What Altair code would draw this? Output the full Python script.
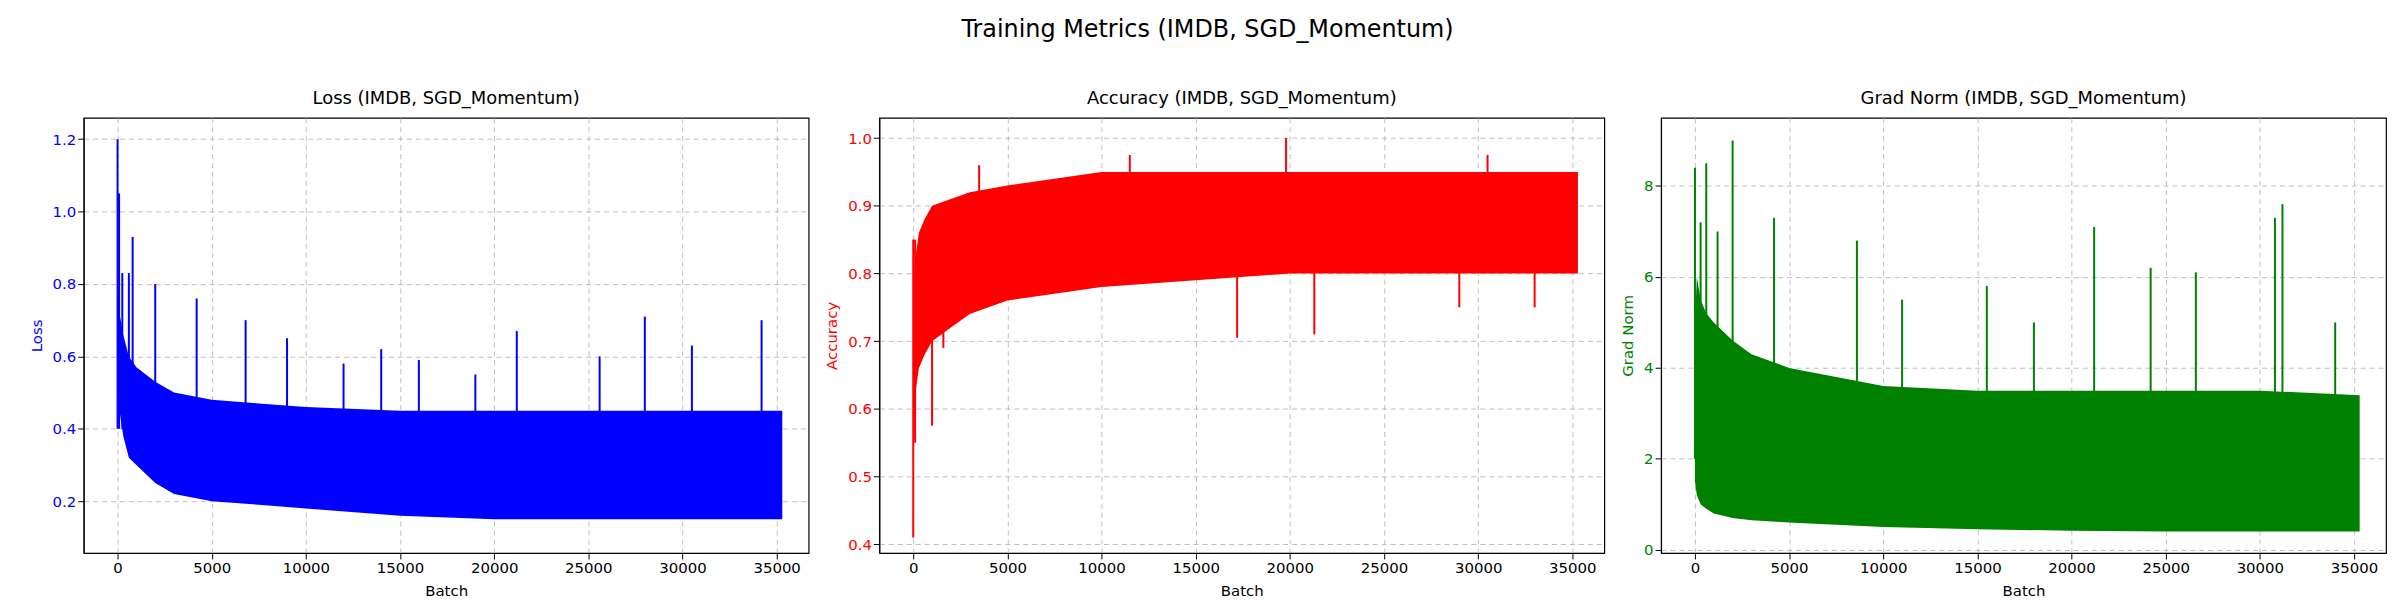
import pandas as pd
import altair as alt

# envelope sample points (batch)
batches = [0, 100, 300, 600, 1000, 2000, 3000, 5000, 7500, 10000, 15000, 20000, 25000, 30000, 35300]

loss_lo = [0.55, 0.45, 0.38, 0.32, 0.30, 0.25, 0.22, 0.20, 0.19, 0.18, 0.16, 0.15, 0.15, 0.15, 0.15]
loss_hi = [0.82, 0.72, 0.66, 0.60, 0.57, 0.53, 0.50, 0.48, 0.47, 0.46, 0.45, 0.45, 0.45, 0.45, 0.45]
loss_spike_x = [0, 80, 250, 600, 800, 2000, 4200, 6800, 9000, 12000, 14000, 16000, 19000, 21200, 25600, 28000, 30500, 34200]
loss_spike_y = [1.20, 1.05, 0.83, 0.83, 0.93, 0.80, 0.76, 0.70, 0.65, 0.58, 0.62, 0.59, 0.55, 0.67, 0.60, 0.71, 0.63, 0.70]

acc_lo = [0.50, 0.62, 0.66, 0.68, 0.70, 0.72, 0.74, 0.76, 0.77, 0.78, 0.79, 0.80, 0.80, 0.80, 0.80]
acc_hi = [0.75, 0.82, 0.86, 0.88, 0.90, 0.91, 0.92, 0.93, 0.94, 0.95, 0.95, 0.95, 0.95, 0.95, 0.95]
acc_hi_spike_x = [3500, 11500, 19800, 30500]
acc_hi_spike_y = [0.96, 0.975, 1.00, 0.975]
acc_lo_spike_x = [0, 100, 1000, 1600, 17200, 21300, 29000, 33000]
acc_lo_spike_y = [0.41, 0.55, 0.575, 0.69, 0.705, 0.71, 0.75, 0.75]

grad_lo = [1.5, 1.2, 1.0, 0.9, 0.8, 0.7, 0.65, 0.6, 0.55, 0.5, 0.45, 0.42, 0.4, 0.4, 0.4]
grad_hi = [5.0, 6.0, 5.5, 5.2, 5.0, 4.6, 4.3, 4.0, 3.8, 3.6, 3.5, 3.5, 3.5, 3.5, 3.4]
grad_spike_x = [0, 300, 600, 1200, 2000, 4200, 8600, 11000, 15500, 18000, 21200, 24200, 26600, 30800, 31200, 34000]
grad_spike_y = [8.4, 7.2, 8.5, 7.0, 9.0, 7.3, 6.8, 5.5, 5.8, 5.0, 7.1, 6.2, 6.1, 7.3, 7.6, 5.0]


def envelope(lo, hi):
    return pd.DataFrame({"batch": batches, "lo": lo, "hi": hi})


def spikes(xs, ys, base):
    return pd.DataFrame({"batch": xs, "top": ys, "base": [base] * len(xs)})


def panel(title, ytitle, color, env, spike_frames, ydom, ticks, fmt):
    x = alt.X("batch:Q", title="Batch", scale=alt.Scale(domain=[-1800, 36700], nice=False),
              axis=alt.Axis(values=list(range(0, 35001, 5000)), format="d"))
    yax = alt.Axis(labelColor=color, titleColor=color, values=ticks, format=fmt)
    band = alt.Chart(env).mark_area(color=color, opacity=1).encode(
        x=x,
        y=alt.Y("lo:Q", title=ytitle, scale=alt.Scale(domain=ydom, nice=False, zero=False), axis=yax),
        y2="hi:Q",
    )
    layers = [band]
    for sf in spike_frames:
        layers.append(alt.Chart(sf).mark_rule(color=color, strokeWidth=2).encode(
            x="batch:Q", y="base:Q", y2="top:Q"))
    return alt.layer(*layers).properties(width=728, height=437, title=title)


p1 = panel("Loss (IMDB, SGD_Momentum)", "Loss", "blue", envelope(loss_lo, loss_hi),
           [spikes(loss_spike_x, loss_spike_y, 0.4)], [0.057, 1.259],
           [0.2, 0.4, 0.6, 0.8, 1.0, 1.2], ".1f")
p2 = panel("Accuracy (IMDB, SGD_Momentum)", "Accuracy", "red", envelope(acc_lo, acc_hi),
           [spikes(acc_hi_spike_x, acc_hi_spike_y, 0.88), spikes(acc_lo_spike_x, acc_lo_spike_y, 0.85)],
           [0.387, 1.03], [0.4, 0.5, 0.6, 0.7, 0.8, 0.9, 1.0], ".1f")
p3 = panel("Grad Norm (IMDB, SGD_Momentum)", "Grad Norm", "green", envelope(grad_lo, grad_hi),
           [spikes(grad_spike_x, grad_spike_y, 2.0)], [-0.07, 9.5], [0, 2, 4, 6, 8], "d")

chart = alt.hconcat(p1, p2, p3, spacing=14).properties(
    title=alt.TitleParams("Training Metrics (IMDB, SGD_Momentum)", fontSize=24, fontWeight="normal",
                          anchor="middle", offset=48, font="DejaVu Sans", color="black")
).configure(font="DejaVu Sans", padding={"left": 20, "top": 8, "right": 5, "bottom": 5}).configure_view(
    stroke="black", strokeWidth=1.2
).configure_axis(
    gridDash=[5, 4], gridColor="#b0b0b0", gridOpacity=0.8, domainColor="black", tickColor="black",
    labelFontSize=15, titleFontSize=15, titleFontWeight="normal", tickSize=6,
    labelColor="black", titleColor="black", titlePadding=8,
).configure_title(fontSize=18, fontWeight="normal", font="DejaVu Sans", offset=10)

chart.save("out.html", embed_options={"renderer": "svg", "actions": False})
